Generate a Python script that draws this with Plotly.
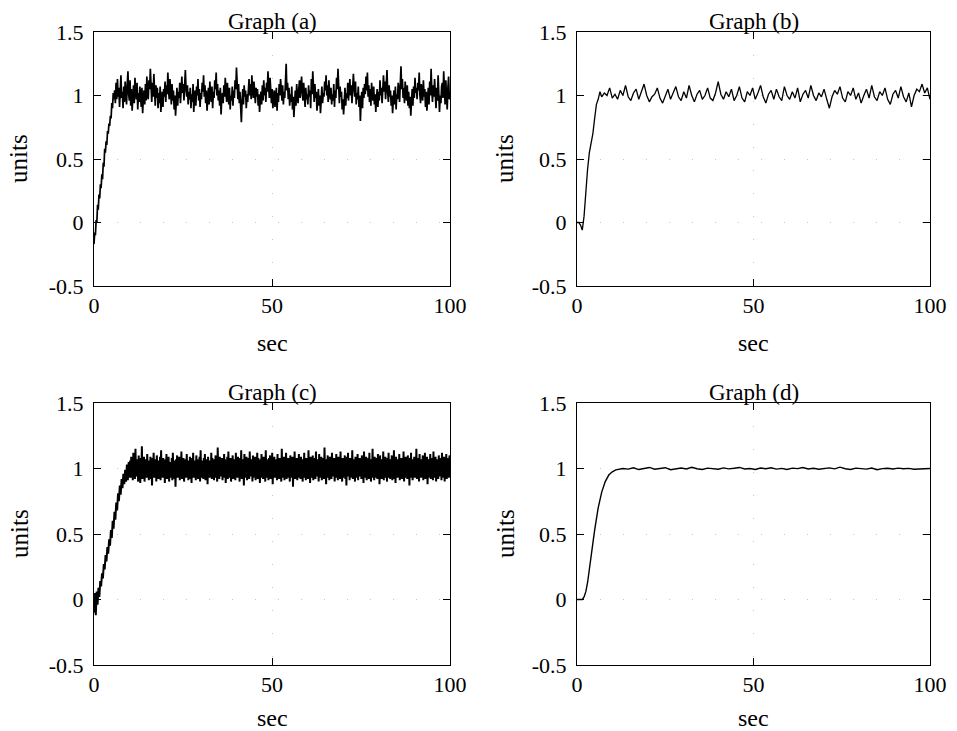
import numpy as np
import plotly.graph_objects as go

# ---------------- data ----------------
# Graph (a): rise then noisy steady state
a_rise_t = [0, 0.2, 0.4, 0.6, 0.8, 1.0, 1.2, 1.4, 1.6, 1.8, 2.0, 2.2, 2.4, 2.6, 2.8, 3.0,
            3.2, 3.4, 3.6, 3.8, 4.0, 4.2, 4.4, 4.6, 4.8, 5.0, 5.2, 5.4, 5.6]
a_rise_y = [-0.17, -0.08, -0.10, 0.02, 0.00, 0.14, 0.10, 0.22, 0.19, 0.30, 0.27, 0.38, 0.34,
            0.47, 0.44, 0.58, 0.55, 0.64, 0.61, 0.72, 0.70, 0.78, 0.76, 0.84, 0.82, 0.94,
            0.90, 1.02, 0.97]
a_steady_y = [
    1.04, 0.94, 1.10, 0.97, 1.13, 0.99, 1.06, 0.91, 1.08, 1.16, 0.98, 1.03,
    0.90, 1.07, 0.95, 1.11, 1.02, 0.93, 1.09, 1.19, 1.01, 0.96, 1.12, 0.92,
    1.05, 0.88, 0.99, 1.08, 0.94, 1.14, 1.03, 0.97, 1.10, 0.89, 1.02, 0.95,
    1.07, 1.00, 0.91, 1.06, 0.86, 0.98, 1.04, 0.93, 1.09, 0.96, 1.15, 1.01,
    0.97, 1.12, 1.05, 1.21, 1.03, 0.95, 1.10, 0.99, 1.17, 1.04, 0.92, 1.08,
    0.98, 1.06, 0.90, 1.02, 0.94, 1.07, 0.87, 0.96, 1.03, 0.91, 1.05, 0.99,
    1.11, 0.95, 1.08, 1.01, 1.18, 1.04, 0.97, 1.13, 1.00, 0.93, 1.09, 0.96,
    1.04, 0.89, 1.00, 0.84, 0.95, 1.06, 0.92, 1.03, 0.98, 1.10, 0.94, 1.07,
    1.15, 1.02, 1.09, 0.96, 1.12, 1.20, 1.05, 0.99, 1.08, 0.93, 1.03, 0.97,
    1.06, 0.90, 1.01, 0.95, 1.09, 0.87, 0.98, 1.04, 0.92, 1.07, 1.00, 1.13,
    0.96, 1.05, 0.91, 1.02, 0.97, 1.10, 1.03, 1.16, 0.99, 1.08, 0.94, 1.04,
    0.88, 0.99, 1.06, 0.93, 1.11, 1.01, 0.95, 1.07, 0.90, 1.03, 0.98, 1.12,
    1.05, 1.18, 1.00, 1.09, 0.96, 1.04, 0.92, 1.06, 0.85, 0.97, 1.02, 0.94,
    1.08, 0.99, 1.14, 1.03, 0.95, 1.10, 1.01, 0.93, 1.06, 0.89, 1.00, 0.96,
    1.07, 0.92, 1.04, 0.98, 1.12, 1.05, 1.22, 1.02, 0.97, 1.09, 0.94, 1.03,
    0.91, 0.79, 0.96, 1.05, 0.93, 1.08, 0.99, 1.04, 0.90, 1.01, 0.95, 1.07,
    1.13, 1.00, 1.09, 0.97, 1.16, 1.04, 0.98, 1.11, 1.02, 0.94, 1.06, 0.99,
    1.05, 0.92, 1.01, 0.87, 0.97, 1.03, 0.93, 1.08, 0.96, 1.12, 1.00, 1.06,
    0.95, 1.10, 1.03, 1.19, 1.07, 0.98, 1.14, 1.01, 0.94, 1.05, 0.90, 0.99,
    1.04, 0.91, 0.97, 1.06, 0.88, 1.02, 0.95, 1.09, 1.00, 1.13, 1.05, 0.96,
    1.08, 0.93, 1.03, 0.98, 1.11, 1.25, 1.04, 1.10, 0.97, 1.06, 0.92, 1.01,
    0.95, 1.07, 0.89, 0.99, 0.83, 0.96, 1.04, 0.92, 1.09, 1.00, 0.94, 1.05,
    1.12, 0.98, 1.07, 1.15, 1.02, 0.96, 1.10, 1.03, 0.91, 1.06, 0.97, 1.01,
    0.93, 1.08, 0.99, 1.04, 0.90, 1.13, 1.01, 1.19, 1.06, 0.95, 1.09, 0.98,
    1.03, 0.88, 0.97, 1.05, 0.92, 1.00, 0.86, 0.96, 1.07, 0.94, 1.02, 0.99,
    1.11, 1.04, 1.16, 1.00, 1.08, 0.95, 1.12, 1.03, 0.97, 1.06, 0.93, 1.01,
    0.96, 1.09, 0.91, 1.04, 0.98, 1.14, 1.05, 1.21, 1.02, 0.94, 1.07, 0.99,
    1.03, 0.89, 0.97, 0.85, 0.95, 1.06, 0.92, 1.02, 0.98, 1.10, 0.96, 1.05,
    1.13, 1.00, 1.08, 0.94, 1.04, 1.17, 1.06, 0.99, 1.11, 0.93, 1.02, 0.97,
    1.07, 0.91, 1.00, 0.80, 0.95, 1.03, 0.90, 1.06, 0.98, 1.09, 1.01, 1.15,
    1.04, 1.18, 0.99, 1.08, 0.95, 1.05, 0.92, 1.10, 1.02, 0.96, 1.07, 0.93,
    1.01, 0.87, 0.98, 1.05, 0.91, 1.03, 0.96, 1.12, 1.00, 1.06, 0.94, 1.09,
    1.16, 1.03, 1.11, 0.97, 1.07, 1.20, 1.02, 0.95, 1.08, 0.99, 1.04, 0.92,
    1.00, 0.86, 0.96, 1.04, 0.93, 1.07, 0.89, 1.01, 0.97, 1.10, 1.03, 0.95,
    1.09, 1.23, 1.05, 1.13, 0.98, 1.06, 0.94, 1.11, 1.01, 0.96, 1.08, 0.92,
    1.03, 0.90, 0.99, 0.84, 0.95, 1.05, 0.92, 1.07, 0.98, 1.14, 1.02, 1.06,
    0.97, 1.10, 1.04, 1.18, 1.00, 0.94, 1.09, 1.02, 0.96, 1.12, 0.99, 1.05,
    0.91, 1.03, 0.88, 0.97, 1.06, 0.93, 1.11, 1.00, 1.21, 1.04, 0.95, 1.08,
    0.99, 1.13, 1.02, 0.90, 1.06, 0.96, 1.16, 1.03, 0.87, 1.00, 0.94, 1.07,
    1.10, 0.98, 1.19, 1.05, 0.93, 1.12, 1.01, 0.89, 1.06, 1.15, 0.97, 1.03,
]
a_steady_start, a_steady_end = 5.8, 100.0

# Graph (b): smoother response with moderate ripple
b_rise_t = [0, 0.5, 1.0, 1.5, 2.0, 2.5, 3.0, 3.5, 4.0, 4.5, 5.0, 5.5, 6.0, 6.5]
b_rise_y = [0.0, 0.0, -0.02, -0.06, 0.05, 0.25, 0.42, 0.55, 0.62, 0.70, 0.82, 0.93, 0.97, 1.03]
b_steady_y = [
    0.99, 1.02, 1.00, 1.06, 0.98, 1.01, 0.97, 1.04, 1.00, 1.08,
    0.99, 0.96, 1.02, 1.05, 0.97, 1.03, 1.09, 1.00, 0.95, 0.99,
    1.01, 1.06, 0.98, 0.94, 1.00, 1.05, 0.97, 1.02, 1.07, 0.99,
    0.96, 1.03, 0.98, 1.08, 1.00, 0.95, 1.01, 1.04, 0.97, 1.00,
    1.06, 0.98, 0.96, 1.02, 1.11, 1.01, 0.97, 1.03, 0.99, 1.05,
    0.96, 1.00, 1.07, 0.98, 0.95, 1.03, 1.00, 1.06, 0.97, 1.02,
    1.08, 0.99, 0.94, 1.01, 1.04, 0.97, 1.05, 0.99, 0.96, 1.07,
    1.00, 0.97, 1.03, 0.98, 1.06, 0.95, 1.01, 1.04, 0.98, 1.08,
    1.00, 0.96, 1.02, 0.99, 1.05, 0.97, 0.90, 0.99, 1.04, 1.01,
    1.07, 0.98, 0.95, 1.03, 1.00, 1.06, 0.97, 1.02, 0.94, 1.00,
    1.05, 0.98, 1.08, 0.99, 0.96, 1.03, 1.00, 1.06, 0.97, 0.93,
    1.01, 1.04, 0.98, 1.07, 0.99, 0.95, 1.02, 0.91, 1.00, 1.05,
    1.03, 1.09, 1.02, 1.06, 0.97,
]
b_steady_start, b_steady_end = 7.0, 100.0

# Graph (c): dense high-frequency noise band
c_rise_t = [0, 0.25, 0.5, 0.75, 1.0, 1.25, 1.5, 1.75, 2.0, 2.25, 2.5, 2.75, 3.0, 3.25,
            3.5, 3.75, 4.0, 4.25, 4.5, 4.75, 5.0, 5.25, 5.5, 5.75, 6.0, 6.25, 6.5, 6.75,
            7.0, 7.25, 7.5, 7.75, 8.0, 8.25, 8.5, 8.75, 9.0, 9.25, 9.5, 9.75, 10.0]
c_rise_y = [-0.10, 0.05, -0.12, 0.06, -0.04, 0.09, 0.02, 0.14, 0.10, 0.20, 0.16, 0.27, 0.23, 0.34,
            0.29, 0.40, 0.35, 0.46, 0.41, 0.53, 0.47, 0.60, 0.54, 0.67, 0.61, 0.74, 0.68, 0.81,
            0.75, 0.87, 0.80, 0.92, 0.85, 0.96, 0.88, 0.99, 0.90, 1.03, 0.91, 1.05, 0.93]
c_steady_y = [
    1.06, 0.93, 1.09, 0.95, 1.04, 0.91, 1.12, 0.96, 1.05, 0.92, 1.15, 0.94,
    1.07, 0.97, 1.04, 0.90, 1.10, 0.93, 1.06, 0.89, 1.08, 0.95, 1.17, 0.92,
    1.05, 0.96, 1.09, 0.90, 1.04, 0.94, 1.07, 0.93, 1.11, 0.97, 1.06, 0.91,
    1.03, 0.95, 1.09, 0.92, 1.05, 0.87, 1.08, 0.96, 1.12, 0.93, 1.04, 0.94,
    1.07, 0.90, 1.10, 0.95, 1.06, 0.92, 1.03, 0.97, 1.09, 0.91, 1.14, 0.94,
    1.05, 0.93, 1.08, 0.96, 1.04, 0.89, 1.07, 0.95, 1.11, 0.92, 1.06, 0.94,
    1.09, 0.90, 1.05, 0.97, 1.03, 0.93, 1.08, 0.91, 1.12, 0.95, 1.06, 0.92,
    1.04, 0.86, 1.07, 0.96, 1.10, 0.93, 1.05, 0.94, 1.09, 0.91, 1.06, 0.95,
    1.13, 0.92, 1.04, 0.97, 1.08, 0.90, 1.05, 0.94, 1.07, 0.93, 1.11, 0.96,
    1.06, 0.91, 1.03, 0.95, 1.09, 0.92, 1.05, 0.89, 1.08, 0.94, 1.12, 0.93,
    1.06, 0.97, 1.04, 0.91, 1.10, 0.95, 1.07, 0.92, 1.05, 0.94, 1.09, 0.90,
    1.14, 0.96, 1.06, 0.93, 1.04, 0.92, 1.08, 0.95, 1.11, 0.91, 1.05, 0.94,
    1.07, 0.88, 1.09, 0.96, 1.06, 0.93, 1.04, 0.95, 1.12, 0.92, 1.08, 0.97,
    1.05, 0.91, 1.07, 0.94, 1.10, 0.93, 1.06, 0.90, 1.16, 0.95, 1.04, 0.92,
    1.09, 0.96, 1.05, 0.94, 1.08, 0.91, 1.06, 0.93, 1.11, 0.95, 1.07, 0.89,
    1.04, 0.96, 1.09, 0.92, 1.13, 0.94, 1.05, 0.93, 1.08, 0.90, 1.06, 0.95,
    1.10, 0.92, 1.07, 0.97, 1.04, 0.91, 1.12, 0.94, 1.05, 0.93, 1.09, 0.96,
    1.06, 0.90, 1.08, 0.95, 1.14, 0.92, 1.04, 0.94, 1.07, 0.87, 1.11, 0.96,
    1.05, 0.93, 1.09, 0.91, 1.06, 0.95, 1.08, 0.92, 1.13, 0.94, 1.04, 0.97,
    1.07, 0.90, 1.10, 0.93, 1.05, 0.95, 1.09, 0.91, 1.06, 0.94, 1.12, 0.92,
    1.08, 0.96, 1.04, 0.89, 1.07, 0.93, 1.11, 0.95, 1.05, 0.92, 1.09, 0.94,
    1.06, 0.90, 1.14, 0.96, 1.07, 0.93, 1.04, 0.91, 1.08, 0.95, 1.10, 0.92,
    1.05, 0.94, 1.12, 0.88, 1.06, 0.96, 1.09, 0.93, 1.04, 0.95, 1.07, 0.91,
    1.11, 0.94, 1.05, 0.92, 1.08, 0.96, 1.06, 0.90, 1.15, 0.93, 1.04, 0.95,
    1.09, 0.91, 1.07, 0.94, 1.12, 0.92, 1.05, 0.97, 1.08, 0.93, 1.06, 0.90,
    1.10, 0.95, 1.04, 0.93, 1.09, 0.86, 1.07, 0.94, 1.13, 0.92, 1.05, 0.96,
    1.08, 0.91, 1.06, 0.95, 1.11, 0.93, 1.04, 0.92, 1.09, 0.94, 1.07, 0.90,
    1.05, 0.96, 1.12, 0.93, 1.06, 0.91, 1.08, 0.95, 1.04, 0.92, 1.14, 0.94,
    1.07, 0.89, 1.09, 0.96, 1.05, 0.93, 1.10, 0.91, 1.06, 0.95, 1.08, 0.92,
    1.13, 0.94, 1.04, 0.97, 1.07, 0.90, 1.11, 0.93, 1.05, 0.94, 1.09, 0.91,
    1.06, 0.95, 1.08, 0.92, 1.16, 0.94, 1.05, 0.88, 1.07, 0.96, 1.10, 0.93,
    1.04, 0.91, 1.09, 0.95, 1.06, 0.92, 1.12, 0.94, 1.05, 0.97, 1.08, 0.90,
    1.07, 0.93, 1.11, 0.96, 1.04, 0.91, 1.09, 0.94, 1.06, 0.92, 1.13, 0.95,
    1.05, 0.90, 1.08, 0.93, 1.07, 0.96, 1.10, 0.92, 1.04, 0.87, 1.09, 0.94,
    1.12, 0.95, 1.06, 0.91, 1.08, 0.93, 1.05, 0.96, 1.14, 0.92, 1.07, 0.94,
    1.04, 0.90, 1.09, 0.95, 1.06, 0.93, 1.11, 0.91, 1.05, 0.94, 1.08, 0.97,
    1.07, 0.92, 1.10, 0.94, 1.05, 0.89, 1.13, 0.95, 1.06, 0.93, 1.09, 0.91,
    1.04, 0.96, 1.08, 0.92, 1.12, 0.94, 1.07, 0.90, 1.05, 0.95, 1.15, 0.93,
    1.06, 0.91, 1.09, 0.96, 1.04, 0.93, 1.08, 0.92, 1.11, 0.94, 1.06, 0.88,
    1.10, 0.95, 1.05, 0.92, 1.07, 0.96, 1.13, 0.91, 1.06, 0.94, 1.09, 0.93,
    1.04, 0.90, 1.08, 0.95, 1.12, 0.93, 1.05, 0.92, 1.07, 0.97, 1.10, 0.91,
    1.06, 0.94, 1.14, 0.92, 1.05, 0.89, 1.09, 0.95, 1.07, 0.93, 1.04, 0.96,
    1.11, 0.91, 1.06, 0.94, 1.08, 0.92, 1.05, 0.95, 1.13, 0.90, 1.07, 0.93,
    1.09, 0.96, 1.04, 0.92, 1.10, 0.94, 1.06, 0.87, 1.08, 0.95, 1.12, 0.93,
    1.05, 0.91, 1.07, 0.96, 1.09, 0.93, 1.04, 0.94, 1.15, 0.92, 1.06, 0.95,
    1.08, 0.90, 1.11, 0.94, 1.05, 0.93, 1.07, 0.96, 1.10, 0.91, 1.06, 0.94,
    1.12, 0.92, 1.04, 0.95, 1.09, 0.88, 1.07, 0.93, 1.05, 0.96, 1.11, 0.92,
    1.06, 0.94, 1.08, 0.91, 1.13, 0.95, 1.05, 0.93, 1.09, 0.90, 1.07, 0.96,
    1.04, 0.92, 1.10, 0.94, 1.06, 0.97, 1.08, 0.91, 1.12, 0.93, 1.05, 0.95,
    1.09, 0.90, 1.07, 0.94, 1.11, 0.92, 1.06, 0.95, 1.08, 0.93, 1.10, 0.96,
]
c_steady_start, c_steady_end = 10.15, 100.0

# Graph (d): smooth, nearly noise-free response
d_rise_t = [0, 1.0, 1.5, 2.0, 2.5, 3.0, 3.5, 4.0, 4.5, 5.0, 5.5, 6.0, 7.0, 8.0, 9.0, 10.0, 11.0, 12.0]
d_rise_y = [0.0, 0.0, 0.0, 0.02, 0.06, 0.13, 0.22, 0.33, 0.43, 0.53, 0.62, 0.70, 0.82, 0.90, 0.95, 0.975, 0.99, 0.997]
d_steady_y = [
    1.000, 0.995, 1.005, 0.992, 1.000, 1.008, 0.995, 1.002, 1.006, 0.991,
    1.000, 1.004, 0.996, 1.009, 0.998, 0.993, 1.003, 1.000, 0.994, 1.005,
    0.997, 1.002, 1.008, 0.996, 1.000, 0.993, 1.004, 0.998, 1.006, 0.995,
    1.001, 0.992, 1.003, 0.999, 1.007, 0.996, 1.002, 0.994, 1.000, 1.005,
    0.997, 1.010, 0.998, 0.993, 1.003, 1.000, 0.995, 1.004, 0.991, 0.999,
    1.002, 0.996, 1.003, 0.998, 1.001, 0.994, 0.997, 1.000, 1.000,
]
d_steady_start, d_steady_end = 13.0, 100.0

x_ticks = [0, 50, 100]
x_tick_labels = ["0", "50", "100"]
y_ticks = [-0.5, 0, 0.5, 1, 1.5]
y_tick_labels = ["-0.5", "0", "0.5", "1", "1.5"]
titles = ["Graph (a)", "Graph (b)", "Graph (c)", "Graph (d)"]


def series(rise_t, rise_y, steady_y, t0, t1):
    t = list(rise_t) + list(np.linspace(t0, t1, len(steady_y)))
    y = list(rise_y) + list(steady_y)
    return t, y


panels = [
    series(a_rise_t, a_rise_y, a_steady_y, a_steady_start, a_steady_end),
    series(b_rise_t, b_rise_y, b_steady_y, b_steady_start, b_steady_end),
    series(c_rise_t, c_rise_y, c_steady_y, c_steady_start, c_steady_end),
    series(d_rise_t, d_rise_y, d_steady_y, d_steady_start, d_steady_end),
]

W, H = 957, 731


def px(xw):
    return xw / W


def py(yw):
    return 1 - yw / H


# window-pixel boxes (left, right, top, bottom)
boxes = [(94, 450, 32, 286), (577, 930, 32, 286), (94, 450, 403, 665), (577, 930, 403, 665)]
sec_y = [343, 343, 718, 718]
units_x = [19, 505, 19, 505]
widths = [1.7, 1.3, 2.0, 1.4]

FONT = "Liberation Serif"
fig = go.Figure()
for i, ((t, y), (l, r, top, bot)) in enumerate(zip(panels, boxes)):
    n = "" if i == 0 else str(i + 1)
    fig.add_trace(go.Scatter(x=t, y=y, mode="lines", line=dict(color="black", width=widths[i]),
                             xaxis="x" + n, yaxis="y" + n, showlegend=False, hoverinfo="skip"))
    common = dict(showline=True, linecolor="black", linewidth=1, mirror="ticks",
                  ticks="inside", ticklen=7, tickcolor="black", zeroline=False,
                  showgrid=True, gridcolor="#c8c8c8", griddash="1px,22px", gridwidth=1,
                  tickfont=dict(family=FONT, size=22, color="black"))
    fig.update_layout(**{
        "xaxis" + n: dict(domain=[px(l), px(r)], range=[0, 100], anchor="y" + n,
                          tickvals=x_ticks, ticktext=x_tick_labels, ticklabelstandoff=0, **common),
        "yaxis" + n: dict(domain=[py(bot), py(top)], range=[-0.5, 1.5], anchor="x" + n,
                          tickvals=y_ticks, ticktext=y_tick_labels, ticklabelstandoff=5, **common),
    })
    cx = px((l + r) / 2)
    fig.add_annotation(x=cx, y=py(top), xref="paper", yref="paper", text=titles[i],
                       showarrow=False, xanchor="center", yanchor="bottom", yshift=-4,
                       font=dict(family=FONT, size=23, color="black"))
    fig.add_annotation(x=cx, y=py(sec_y[i]), xref="paper", yref="paper",
                       text="sec", showarrow=False, xanchor="center", yanchor="middle",
                       font=dict(family=FONT, size=24, color="black"))
    fig.add_annotation(x=px(units_x[i]), y=py((top + bot) / 2), xref="paper", yref="paper",
                       text="units", textangle=-90, showarrow=False, xanchor="center",
                       yanchor="middle", font=dict(family=FONT, size=25, color="black"))

fig.update_layout(width=W, height=H, margin=dict(l=0, r=0, t=0, b=0, autoexpand=False),
                  font=dict(family=FONT, color="black"),
                  paper_bgcolor="white", plot_bgcolor="white")
# remove the default 8px page margin so the figure fills the window exactly
fig.write_html("out.html", config={"displayModeBar": False},
               post_script="document.body.style.margin='0';document.body.style.overflow='hidden';")
